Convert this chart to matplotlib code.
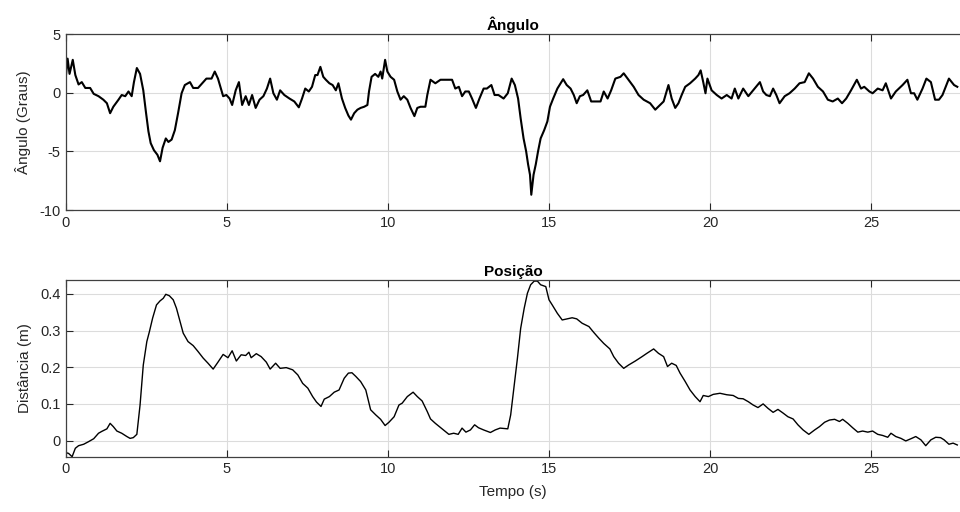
import matplotlib
matplotlib.use("Agg")
import matplotlib.pyplot as plt
import numpy as np

plt.rcParams['font.family'] = ['Liberation Sans', 'DejaVu Sans']

# ---- Ângulo (graus) ----
t_ang = [0.00, 0.05, 0.11, 0.21, 0.29, 0.39, 0.49, 0.60, 0.75, 0.86, 1.01, 1.16, 1.27, 1.37, 1.47,
         1.63, 1.73, 1.84, 1.94, 2.04, 2.11, 2.20, 2.30, 2.40, 2.48, 2.56, 2.63, 2.73, 2.84, 2.92,
         3.00, 3.10, 3.18, 3.28, 3.38, 3.48, 3.59, 3.69, 3.85, 3.95, 4.10, 4.26, 4.36, 4.52, 4.62,
         4.72, 4.88, 4.98, 5.08, 5.16, 5.27, 5.37, 5.47, 5.58, 5.68, 5.78, 5.89, 6.01, 6.13, 6.24,
         6.34, 6.44, 6.55, 6.65, 6.78, 6.94, 7.09, 7.23, 7.33, 7.43, 7.54, 7.64, 7.74, 7.81, 7.90,
         7.99, 8.07, 8.18, 8.28, 8.38, 8.46, 8.57, 8.67, 8.77, 8.85, 8.95, 9.05, 9.15, 9.26, 9.36,
         9.41, 9.49, 9.60, 9.70, 9.77, 9.82, 9.91, 9.98, 10.08, 10.19, 10.29, 10.39, 10.49, 10.60,
         10.70, 10.82, 10.91, 11.01, 11.16, 11.22, 11.32, 11.47, 11.63, 11.78, 11.99, 12.09, 12.20,
         12.30, 12.40, 12.51, 12.61, 12.73, 12.84, 12.97, 13.07, 13.21, 13.31, 13.43, 13.59, 13.72,
         13.84, 13.94, 14.04, 14.12, 14.21, 14.29, 14.35, 14.41, 14.45, 14.52, 14.59, 14.66, 14.74,
         14.85, 14.95, 15.03, 15.13, 15.26, 15.36, 15.44, 15.55, 15.67, 15.77, 15.86, 15.96, 16.06,
         16.19, 16.31, 16.44, 16.60, 16.70, 16.82, 16.93, 17.06, 17.22, 17.32, 17.47, 17.63, 17.78,
         17.94, 18.14, 18.30, 18.45, 18.56, 18.71, 18.81, 18.92, 19.02, 19.12, 19.23, 19.38, 19.54,
         19.64, 19.71, 19.79, 19.86, 19.92, 20.05, 20.21, 20.36, 20.52, 20.67, 20.77, 20.88, 21.03,
         21.19, 21.34, 21.55, 21.65, 21.75, 21.86, 21.96, 22.06, 22.16, 22.32, 22.47, 22.63, 22.78,
         22.94, 23.07, 23.20, 23.35, 23.51, 23.66, 23.81, 23.97, 24.10, 24.23, 24.38, 24.56, 24.69,
         24.79, 24.95, 25.05, 25.21, 25.36, 25.46, 25.62, 25.77, 25.98, 26.13, 26.24, 26.34, 26.44,
         26.60, 26.72, 26.86, 26.99, 27.11, 27.22, 27.32, 27.42, 27.58, 27.68]
angulo = [1.5, 2.9, 1.6, 2.8, 1.5, 0.7, 0.9, 0.4, 0.4, -0.1, -0.3, -0.6, -0.9, -1.75, -1.2,
          -0.6, -0.2, -0.3, 0.1, -0.3, 0.9, 2.1, 1.6, 0.2, -1.6, -3.3, -4.3, -4.9, -5.3, -5.85,
          -4.7, -3.9, -4.2, -4.0, -3.2, -1.75, -0.05, 0.65, 0.9, 0.4, 0.4, 0.9, 1.2, 1.2, 1.8,
          1.2, -0.3, -0.2, -0.5, -1.05, 0.2, 0.9, -1.05, -0.3, -1.05, -0.2, -1.3, -0.6, -0.3, 0.35,
          1.2, -0.05, -0.6, 0.2, -0.2, -0.5, -0.75, -1.25, -0.5, 0.35, 0.1, 0.5, 1.5, 1.5, 2.2,
          1.35, 1.1, 0.8, 0.65, 0.2, 0.8, -0.5, -1.3, -1.95, -2.3, -1.75, -1.45, -1.3, -1.2, -1.05,
          0.1, 1.35, 1.6, 1.35, 1.8, 1.2, 2.8, 1.8, 1.35, 1.1, 0.1, -0.6, -0.3, -0.6,
          -1.3, -2.0, -1.3, -1.2, -1.2, -0.2, 1.1, 0.8, 1.1, 1.1, 1.1, 0.35, 0.5,
          -0.3, 0.1, 0.1, -0.5, -1.3, -0.5, 0.35, 0.35, 0.65, -0.2, -0.2, -0.5, -0.05,
          1.2, 0.65, -0.5, -2.2, -3.9, -5.0, -6.1, -7.0, -8.7, -7.0, -6.1, -5.0, -3.9,
          -3.2, -2.45, -1.2, -0.5, 0.35, 0.8, 1.15, 0.65, 0.35, -0.2, -0.9, -0.3, -0.2,
          0.2, -0.75, -0.75, -0.75, 0.1, -0.5, 0.2, 1.2, 1.35, 1.65, 1.1, 0.5, -0.2,
          -0.6, -0.9, -1.45, -1.05, -0.75, 0.65, -0.5, -1.3, -0.9, -0.2, 0.5, 0.8, 1.2,
          1.5, 1.9, 0.9, -0.05, 1.2, 0.2, -0.2, -0.5, -0.2, -0.5, 0.35, -0.5, 0.35,
          -0.3, 0.2, 0.9, 0.1, -0.2, -0.3, 0.35, -0.2, -0.9, -0.3, -0.05, 0.35, 0.8,
          0.9, 1.65, 1.2, 0.5, 0.1, -0.6, -0.75, -0.5, -0.9, -0.5, 0.2, 1.1, 0.35,
          0.5, 0.1, -0.05, 0.35, 0.2, 0.8, -0.5, 0.1, 0.65, 1.1, -0.05, -0.05, -0.6,
          0.35, 1.2, 0.9, -0.6, -0.6, -0.2, 0.5, 1.2, 0.65, 0.5]

# ---- Posição (m) ----
t_pos = [0.00, 0.08, 0.19, 0.29, 0.39, 0.55, 0.70, 0.86, 1.01, 1.11, 1.27, 1.37, 1.47, 1.58, 1.73,
         1.89, 1.99, 2.09, 2.20, 2.30, 2.40, 2.51, 2.59, 2.69, 2.81, 2.92, 3.02, 3.10, 3.21, 3.33,
         3.43, 3.54, 3.64, 3.79, 3.95, 4.10, 4.26, 4.41, 4.57, 4.72, 4.88, 5.03, 5.16, 5.29, 5.44,
         5.58, 5.68, 5.75, 5.91, 6.06, 6.22, 6.34, 6.51, 6.65, 6.84, 7.04, 7.20, 7.35, 7.51, 7.66,
         7.78, 7.92, 8.02, 8.18, 8.33, 8.48, 8.64, 8.77, 8.88, 9.00, 9.15, 9.31, 9.46, 9.62, 9.77,
         9.91, 10.03, 10.19, 10.34, 10.44, 10.60, 10.78, 10.91, 11.06, 11.22, 11.32, 11.47, 11.68,
         11.89, 12.04, 12.18, 12.30, 12.42, 12.56, 12.69, 12.81, 12.97, 13.18, 13.33, 13.48, 13.72,
         13.81, 13.92, 14.02, 14.12, 14.23, 14.33, 14.43, 14.54, 14.64, 14.74, 14.90, 15.00, 15.10,
         15.26, 15.41, 15.57, 15.72, 15.86, 16.03, 16.24, 16.39, 16.55, 16.70, 16.89, 17.01, 17.16,
         17.32, 17.47, 17.68, 17.89, 18.04, 18.25, 18.40, 18.56, 18.68, 18.81, 18.95, 19.07, 19.23,
         19.38, 19.54, 19.69, 19.79, 19.95, 20.10, 20.31, 20.52, 20.72, 20.88, 21.03, 21.19, 21.34,
         21.49, 21.65, 21.80, 21.96, 22.11, 22.27, 22.42, 22.58, 22.73, 22.89, 23.07, 23.25, 23.40,
         23.56, 23.71, 23.87, 24.02, 24.12, 24.28, 24.43, 24.59, 24.74, 24.90, 25.05, 25.21, 25.36,
         25.52, 25.62, 25.77, 25.93, 26.08, 26.24, 26.39, 26.55, 26.70, 26.86, 27.01, 27.16, 27.27,
         27.42, 27.55, 27.68]
posicao = [-0.033, -0.035, -0.044, -0.021, -0.014, -0.010, -0.003, 0.005, 0.020, 0.025, 0.032, 0.047,
           0.038, 0.026, 0.020, 0.011, 0.006, 0.008, 0.017, 0.097, 0.206, 0.270, 0.297, 0.334, 0.370,
           0.381, 0.388, 0.399, 0.395, 0.384, 0.361, 0.325, 0.293, 0.270, 0.259, 0.243, 0.225, 0.211,
           0.195, 0.214, 0.235, 0.226, 0.245, 0.217, 0.234, 0.232, 0.241, 0.226, 0.237, 0.229, 0.214,
           0.195, 0.211, 0.197, 0.199, 0.193, 0.179, 0.156, 0.143, 0.120, 0.105, 0.093, 0.113, 0.120,
           0.132, 0.138, 0.170, 0.184, 0.185, 0.175, 0.161, 0.138, 0.084, 0.070, 0.058, 0.041, 0.050,
           0.065, 0.097, 0.102, 0.120, 0.132, 0.120, 0.108, 0.079, 0.059, 0.047, 0.032, 0.017, 0.020,
           0.017, 0.034, 0.023, 0.029, 0.043, 0.035, 0.029, 0.022, 0.029, 0.034, 0.032,
           0.070, 0.152, 0.225, 0.306, 0.361, 0.402, 0.425, 0.435, 0.435, 0.425, 0.420, 0.384, 0.370,
           0.347, 0.329, 0.332, 0.335, 0.332, 0.320, 0.311, 0.295, 0.279, 0.265, 0.250, 0.229, 0.211,
           0.197, 0.206, 0.217, 0.229, 0.238, 0.250, 0.238, 0.229, 0.202, 0.211, 0.205, 0.184, 0.161,
           0.138, 0.120, 0.106, 0.123, 0.120, 0.126, 0.129, 0.125, 0.123, 0.115, 0.114, 0.106, 0.097,
           0.090, 0.100, 0.088, 0.077, 0.085, 0.075, 0.065, 0.059, 0.043, 0.029, 0.017, 0.029, 0.038,
           0.050, 0.056, 0.058, 0.052, 0.058, 0.047, 0.035, 0.023, 0.026, 0.023, 0.026, 0.017, 0.014,
           0.009, 0.020, 0.011, 0.006, -0.001, 0.005, 0.011, 0.002, -0.014, 0.002, 0.009, 0.008,
           0.002, -0.010, -0.007, -0.012]

xticks = [0, 5, 10, 15, 20, 25]
yticks_ang = [-10, -5, 0, 5]
yticks_pos = [0, 0.1, 0.2, 0.3, 0.4]
ytick_labels_pos = ['0', '0.1', '0.2', '0.3', '0.4']

W, H = 960, 512
fig = plt.figure(figsize=(W / 100, H / 100), dpi=100)

def rect(l, r, t, b):
    return [l / W, 1 - b / H, (r - l) / W, (b - t) / H]

XMAX = (960 - 66) / 32.2

ax1 = fig.add_axes(rect(66, 960, 34, 210))
ax2 = fig.add_axes(rect(66, 960, 280, 456.7))

spine_c = '#262626'
grid_c = '#dcdcdc'
for ax in (ax1, ax2):
    ax.set_xlim(0, XMAX)
    ax.set_xticks(xticks)
    ax.set_xticklabels([str(v) for v in xticks])
    ax.grid(True, color=grid_c, linewidth=0.8)
    ax.set_axisbelow(True)
    ax.tick_params(direction='in', length=5, width=0.8, colors=spine_c,
                   labelsize=10.5, top=True, right=False, pad=4)
    for s in ('left', 'top', 'bottom'):
        ax.spines[s].set_color('#404040')
        ax.spines[s].set_linewidth(0.9)
    ax.spines['right'].set_visible(False)

ax1.plot(t_ang, angulo, color='black', linewidth=1.5)
ax1.set_ylim(-10, 5)
ax1.set_yticks(yticks_ang)
ax1.set_yticklabels([str(v) for v in yticks_ang])
ax1.set_ylabel('Ângulo (Graus)', fontsize=11, color=spine_c, labelpad=6)
ax1.set_title('Ângulo', fontsize=11, fontweight='bold', color='black', pad=3)

ax2.plot(t_pos, posicao, color='black', linewidth=1.0)
ax2.set_ylim(-0.044, 0.438)
ax2.set_yticks(yticks_pos)
ax2.set_yticklabels(ytick_labels_pos)
ax2.set_ylabel('Distância (m)', fontsize=11, color=spine_c, labelpad=6)
ax2.set_xlabel('Tempo (s)', fontsize=11, color=spine_c, labelpad=6)
ax2.set_title('Posição', fontsize=11, fontweight='bold', color='black', pad=3)

fig.savefig('out.png', dpi=100)
